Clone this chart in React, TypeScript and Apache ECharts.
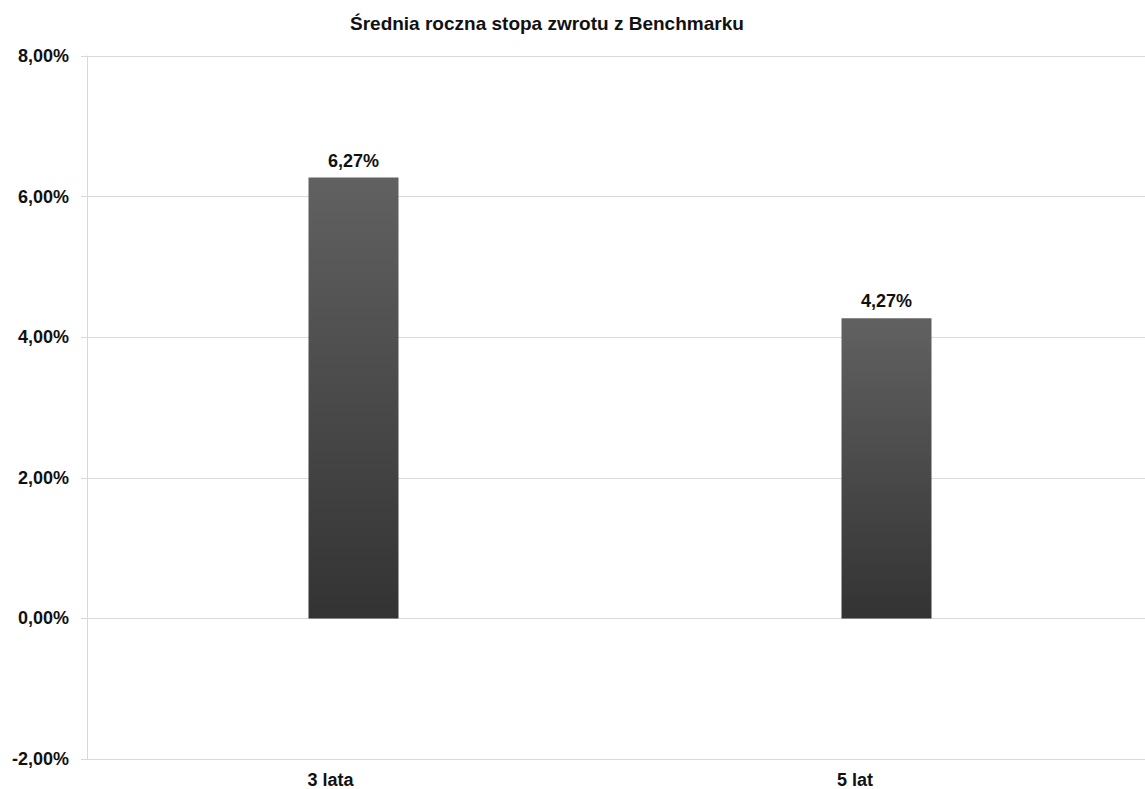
import React, { useEffect, useRef } from "react";
import * as echarts from "echarts";

const titleText = "Średnia roczna stopa zwrotu z Benchmarku";
const categories = ["3 lata", "5 lat"];
const values = [6.27, 4.27];
const yMin = -2;
const yMax = 8;
const yStep = 2;

const fmt = (v: number) => v.toFixed(2).replace(".", ",") + "%";
const labelShift = [46, 63];

export default function App() {
  const ref = useRef<HTMLDivElement>(null);
  useEffect(() => {
    if (!ref.current) return;
    const chart = echarts.init(ref.current, undefined, { renderer: "svg" });
    const font = "'Liberation Sans', Arial, sans-serif";
    chart.setOption({
      animation: false,
      backgroundColor: "#ffffff",
      title: {
        text: titleText,
        left: 345,
        top: 9,
        textStyle: { fontFamily: font, fontSize: 19, fontWeight: "bold", color: "#111" },
      },
      grid: { left: 87, top: 56, width: 1066, height: 704, containLabel: false },
      xAxis: {
        type: "category",
        data: categories.map((c, i) => ({
          value: c,
          textStyle: { padding: [0, labelShift[i], 0, 0] },
        })),
        axisLine: { show: true, onZero: true, lineStyle: { color: "#d9d9d9", width: 1 } },
        axisTick: { show: false },
        axisLabel: {
          fontFamily: font,
          fontSize: 18,
          fontWeight: "bold",
          color: "#111",
          margin: 12,
        },
      },
      yAxis: {
        type: "value",
        min: yMin,
        max: yMax,
        interval: yStep,
        axisLine: { show: true, lineStyle: { color: "#d9d9d9", width: 1 } },
        axisTick: { show: true, length: 6, lineStyle: { color: "#d9d9d9" } },
        splitLine: { show: true, lineStyle: { color: "#d9d9d9", width: 1 } },
        axisLabel: {
          fontFamily: font,
          fontSize: 18,
          fontWeight: "bold",
          color: "#111",
          margin: 18,
          formatter: (v: number) => fmt(v),
        },
      },
      series: [
        {
          type: "bar",
          data: values,
          barWidth: 90,
          itemStyle: {
            color: new echarts.graphic.LinearGradient(0, 0, 0, 1, [
              { offset: 0, color: "#616161" },
              { offset: 1, color: "#333333" },
            ]),
          },
          label: {
            show: true,
            position: "top",
            distance: 8,
            fontFamily: font,
            fontSize: 18,
            fontWeight: "bold",
            color: "#111",
            formatter: (p: any) => fmt(p.value),
          },
        },
      ],
    });
    return () => chart.dispose();
  }, []);
  return (
    <div
      style={{
        position: "absolute",
        left: 0,
        top: 0,
        width: 1145,
        height: 789,
        overflow: "hidden",
        background: "#fff",
      }}
    >
      <div ref={ref} style={{ width: 1160, height: 789 }} />
    </div>
  );
}
